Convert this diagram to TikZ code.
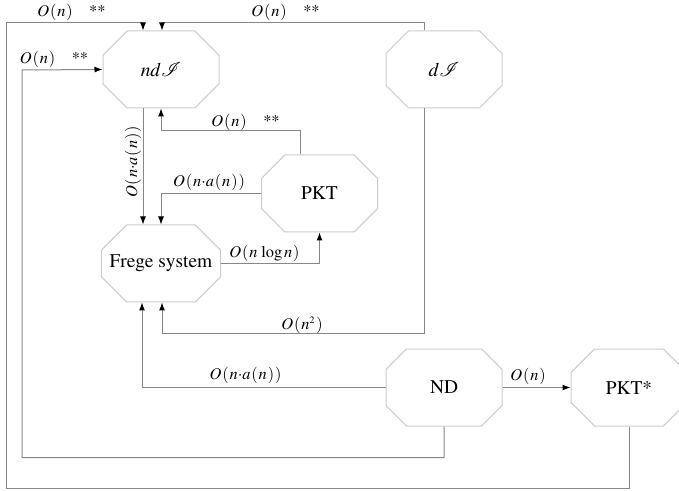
\documentclass[tikz,border=0pt]{standalone}
\usepackage[T1]{fontenc}
\usepackage{mathptmx}
\usepackage{mathrsfs}
\usetikzlibrary{shapes.misc,arrows.meta}

\definecolor{boxgray}{RGB}{204,204,204}
\definecolor{linegray}{RGB}{135,135,135}

% complexity labels
\newcommand{\cO}[1]{$O\mskip1mu(\mskip1mu#1\mskip1mu)$}
\newcommand{\na}{n{\cdot}a\mskip1mu(\mskip1mu n\mskip1mu)}

\begin{document}
\begin{tikzpicture}[x=0.5pt,y=-0.5pt,
  box/.style={chamfered rectangle, chamfered rectangle sep=8.5pt,
    draw=boxgray, fill=white, line width=0.5pt,
    minimum width=58pt, minimum height=38.5pt, inner sep=0pt,
    font=\fontsize{9.7}{11}\selectfont},
  conn/.style={draw=linegray, line width=0.5pt,
    -{Latex[length=4pt,width=3pt,color=black]}},
  lab/.style={font=\fontsize{8.2}{9.6}\selectfont, inner sep=0pt}
]
\useasboundingbox (0,0) rectangle (679,491);

% systems
\node[box] (ndI)   at (161,69.5)  {$nd\mathscr{I}$};
\node[box] (dI)    at (444,69.5)  {$d\mathscr{I}$};
\node[box] (PKT)   at (319.5,193.5) {PKT};
\node[box] (Frege) at (161,263.5) {Frege system};
\node[box] (ND)    at (444,387.5) {ND};
\node[box] (PKTs)  at (629,387.5) {PKT*};

% simulations
\draw[conn] (PKTs.south) -- ++(0,62) -| (6,23) -| ([xshift=-9pt]ndI.north);
\draw[conn] ([xshift=-10pt]dI.north) -- ++(0,-8) -| ([xshift=0.5pt]ndI.north);
\draw[conn] (ND.south) -- ++(0,31) -| (22,70) -- (ndI.west);
\draw[conn] ([xshift=-9pt]ndI.south) -- ([xshift=-9pt]Frege.north);
\draw[conn] ([xshift=-9.75pt]PKT.north) -- ++(0,-24) -| (ndI.south);
\draw[conn] (PKT.west) -| (Frege.north);
\draw[conn] (Frege.east) -| (PKT.south);
\draw[conn] ([xshift=-10pt]dI.south) -- ++(0,225) -| ([xshift=0.5pt]Frege.south);
\draw[conn] (ND.west) -| ([xshift=-9.5pt]Frege.south);
\draw[conn] (ND.east) -- (PKTs.west);

% complexities
\node[lab] (l1) at (71.5,12)  {\cO{n}\quad **};
\node[lab] (l2) at (285.5,12) {\cO{n}\quad **};
\node[lab] (l3) at (54,59)    {\cO{n}\quad **};
\node[lab, rotate=90] (l4) at (133,162) {\cO{\na}};
\node[lab] (l5) at (245.5,122) {\cO{n}\quad **};
\node[lab] (l6) at (209,182)  {\cO{\na}};
\node[lab] (l7) at (264.5,253) {\cO{n\,\log n}};
\node[lab] (l8) at (302,325)  {\cO{n^{\scriptscriptstyle 2}}};
\node[lab] (l9) at (245.5,375) {\cO{\na}};
\node[lab] (l10) at (528,376) {\cO{n}};
\end{tikzpicture}
\end{document}
